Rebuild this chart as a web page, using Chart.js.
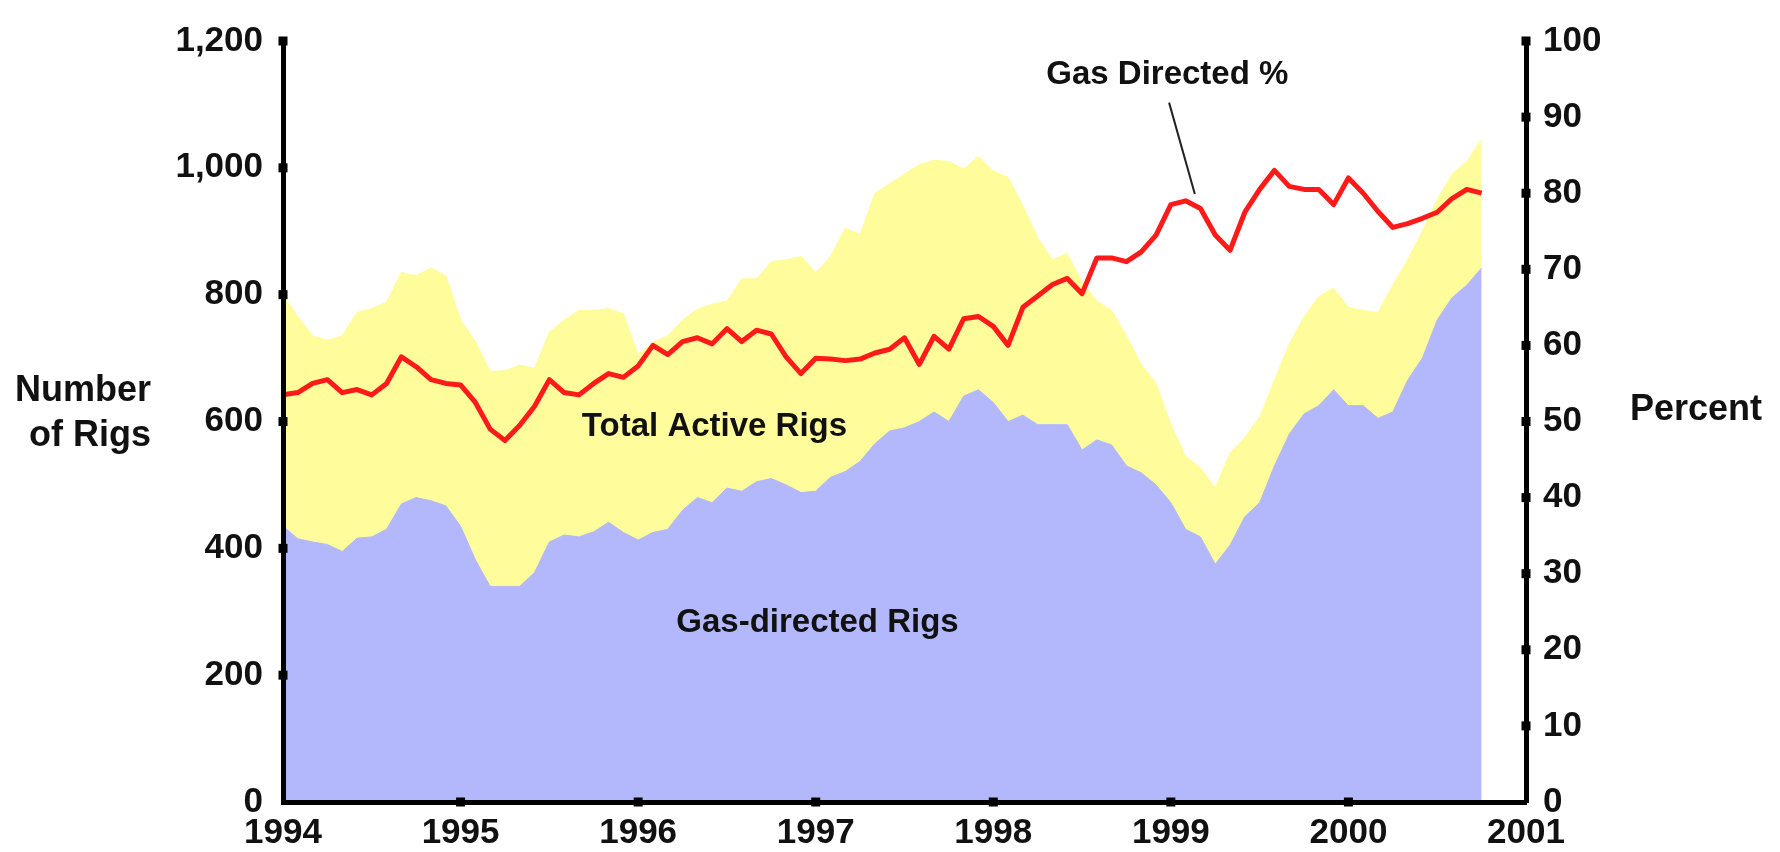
<!DOCTYPE html>
<html>
<head>
<meta charset="utf-8">
<title>Active rigs 1994-2000</title>
<script src="https://cdn.jsdelivr.net/npm/chart.js@4.4.1/dist/chart.umd.min.js"></script>
<style>
  html, body { margin: 0; padding: 0; background: #fff; }
  #wrap { width: 1780px; height: 852px; }
</style>
</head>
<body>
<div id="wrap"><canvas id="chart" width="1780" height="852"></canvas></div>
<script>
/* global Chart */

// monthly readings, Jan 1994 .. Oct 2000
const startYear = 1994;

const totalRigs = [
  800, 765, 735, 728, 735, 772, 778, 788, 835, 830, 842, 830,
  760, 726, 679, 680, 689, 684, 741, 760, 775, 775, 778, 770,
  705, 725, 735, 760, 777, 785, 790, 825, 825, 852, 855, 860,
  835, 860, 905, 895, 960, 975, 990, 1005, 1012, 1010, 998, 1018,
  995, 985, 940, 890, 855, 865, 820, 790, 775, 735, 690, 660,
  595, 545, 527, 495, 550, 575, 607, 665, 722, 765, 797, 810,
  780, 775, 772, 815, 855, 900, 950, 990, 1010, 1045
];

const gasRigs = [
  435, 415, 410, 406, 395, 416, 418, 430, 470, 480, 475, 467,
  435, 382, 340, 340, 340, 362, 410, 421, 418, 426, 441, 425,
  413, 425, 430, 460, 480, 472, 495, 490, 505, 510, 500, 488,
  490, 512, 521, 537, 565, 585, 590, 600, 615, 600, 640, 650,
  630, 600, 610, 595, 595, 595, 555, 571, 563, 530, 519, 500,
  472, 430, 418, 375, 405, 450, 472, 530, 580, 612, 625, 650,
  625, 625, 605, 615, 665, 700, 760, 795, 815, 842
];

const gasPercent = [
  53.5, 53.8, 55.0, 55.5, 53.8, 54.2, 53.5, 55.0, 58.5, 57.2, 55.5, 55.0,
  54.8, 52.5, 49.0, 47.5, 49.5, 52.0, 55.5, 53.8, 53.5, 55.0, 56.3, 55.8,
  57.3, 60.0, 58.8, 60.5, 61.0, 60.2, 62.2, 60.5, 62.0, 61.5, 58.5, 56.3,
  58.3, 58.2, 58.0, 58.2, 59.0, 59.5, 61.0, 57.5, 61.2, 59.5, 63.5, 63.8,
  62.5, 60.0, 65.0, 66.5, 68.0, 68.8, 66.8, 71.5, 71.5, 71.0, 72.3, 74.5,
  78.5, 79.0, 78.0, 74.5, 72.5, 77.5, 80.5, 83.0, 80.9, 80.5, 80.5, 78.5,
  82.0, 80.0, 77.6, 75.5, 76.0, 76.7, 77.5, 79.3, 80.5, 80.0
];

const yearTicks = [1994, 1995, 1996, 1997, 1998, 1999, 2000, 2001];

// text placed in data coordinates
const callouts = [
  { text: 'Total Active Rigs', x: 1996.43, y: 591, axis: 'y' },
  { text: 'Gas-directed Rigs', x: 1997.01, y: 282, axis: 'y' },
  { text: 'Gas Directed %', x: 1998.98, y: 95.5, axis: 'y1' }
];
const pointer = { x1: 1998.99, y1: 91.9, x2: 1999.135, y2: 79.9 };

const FONT = '"Liberation Sans", Arial, Helvetica, sans-serif';
const INK = '#111';

function toPoints(values) {
  return values.map((v, i) => ({ x: startYear + i / 12, y: v }));
}

const decorations = {
  id: 'decorations',
  afterDraw(chart) {
    const { ctx, chartArea: area, scales } = chart;
    const sq = 9;
    ctx.save();
    ctx.fillStyle = '#000';

    // square tick marks sitting on the axis lines
    scales.y.ticks.forEach((t) => {
      if (t.value === 0) return;
      const py = scales.y.getPixelForValue(t.value);
      ctx.fillRect(area.left - sq / 2, py - sq / 2, sq, sq);
    });
    scales.y1.ticks.forEach((t) => {
      if (t.value === 0) return;
      const py = scales.y1.getPixelForValue(t.value);
      ctx.fillRect(area.right - sq / 2, py - sq / 2, sq, sq);
    });
    scales.x.ticks.forEach((t) => {
      if (t.value === yearTicks[0] || t.value === yearTicks[yearTicks.length - 1]) return;
      const px = scales.x.getPixelForValue(t.value);
      ctx.fillRect(px - sq / 2, area.bottom - sq / 2, sq, sq);
    });

    // axis titles
    ctx.fillStyle = INK;
    ctx.font = `bold 36px ${FONT}`;
    ctx.textBaseline = 'middle';
    ctx.textAlign = 'right';
    ctx.fillText('Number', area.left - 132, 391);
    ctx.fillText('of Rigs', area.left - 132, 436);
    ctx.textAlign = 'left';
    ctx.fillText('Percent', area.right + 104, 410);

    // series labels
    ctx.font = `bold 33px ${FONT}`;
    ctx.textAlign = 'center';
    callouts.forEach((c) => {
      ctx.fillText(c.text, scales.x.getPixelForValue(c.x), scales[c.axis].getPixelForValue(c.y));
    });

    // leader line to the percent curve
    ctx.strokeStyle = '#222';
    ctx.lineWidth = 2;
    ctx.beginPath();
    ctx.moveTo(scales.x.getPixelForValue(pointer.x1), scales.y1.getPixelForValue(pointer.y1));
    ctx.lineTo(scales.x.getPixelForValue(pointer.x2), scales.y1.getPixelForValue(pointer.y2));
    ctx.stroke();
    ctx.restore();
  }
};

const tickFont = { family: FONT, size: 35, weight: 'bold' };
const axisBorder = { display: true, color: '#000', width: 5, z: 1 };
const noGrid = { display: true, drawOnChartArea: false, drawTicks: false };

new Chart(document.getElementById('chart'), {
  type: 'line',
  data: {
    datasets: [
      {
        label: 'Gas Directed %',
        data: toPoints(gasPercent),
        yAxisID: 'y1',
        borderColor: '#ff1a1a',
        borderWidth: 5,
        borderJoinStyle: 'round',
        pointRadius: 0,
        tension: 0,
        fill: false,
        order: 0
      },
      {
        label: 'Gas-directed Rigs',
        data: toPoints(gasRigs),
        yAxisID: 'y',
        borderColor: '#b3b8fd',
        backgroundColor: '#b3b8fd',
        borderWidth: 1,
        pointRadius: 0,
        tension: 0,
        fill: 'origin',
        order: 1
      },
      {
        label: 'Total Active Rigs',
        data: toPoints(totalRigs),
        yAxisID: 'y',
        borderColor: '#fffc9b',
        backgroundColor: '#fffc9b',
        borderWidth: 1,
        pointRadius: 0,
        tension: 0,
        fill: 'origin',
        order: 2
      }
    ]
  },
  options: {
    responsive: false,
    animation: false,
    devicePixelRatio: 1,
    layout: { padding: { top: 27, left: 0, right: 0, bottom: 0 } },
    scales: {
      x: {
        type: 'linear',
        min: 1994,
        max: 2001,
        afterBuildTicks: (s) => { s.ticks = yearTicks.map((v) => ({ value: v })); },
        afterFit: (s) => { s.height = 50; },
        ticks: { callback: (v) => String(v), font: tickFont, color: INK, padding: 10, maxRotation: 0, autoSkip: false },
        grid: noGrid,
        border: axisBorder
      },
      y: {
        position: 'left',
        min: 0,
        max: 1200,
        afterFit: (s) => { s.width = 283; },
        ticks: { stepSize: 200, callback: (v) => v.toLocaleString('en-US'), font: tickFont, color: INK, padding: 20 },
        grid: noGrid,
        border: axisBorder
      },
      y1: {
        position: 'right',
        min: 0,
        max: 100,
        afterFit: (s) => { s.width = 254; },
        ticks: { stepSize: 10, font: tickFont, color: INK, padding: 17 },
        grid: noGrid,
        border: axisBorder
      }
    },
    plugins: {
      legend: { display: false },
      tooltip: { enabled: false }
    }
  },
  plugins: [decorations]
});
</script>
</body>
</html>
